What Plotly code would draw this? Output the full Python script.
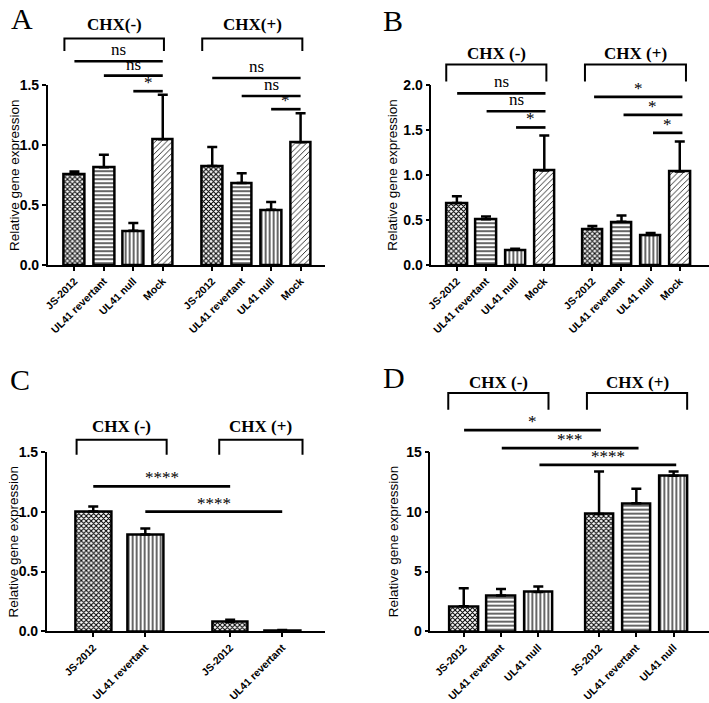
import plotly.graph_objects as go

W, H = 709, 703

# ---------------- data ----------------
A_categories = ["JS-2012", "UL41 revertant", "UL41 null", "Mock"]
A_groups = ["CHX(-)", "CHX(+)"]
A_mean_neg = [0.76, 0.815, 0.285, 1.05]
A_sd_neg = [0.02, 0.105, 0.065, 0.37]
A_mean_pos = [0.825, 0.685, 0.46, 1.025]
A_sd_pos = [0.16, 0.08, 0.065, 0.24]
A_yticks = [0.0, 0.5, 1.0, 1.5]
A_signif = [(0, 3, "ns"), (1, 3, "ns"), (2, 3, "*"), (4, 7, "ns"), (5, 7, "ns"), (6, 7, "*")]

B_categories = ["JS-2012", "UL41 revertant", "UL41 null", "Mock"]
B_groups = ["CHX (-)", "CHX (+)"]
B_mean_neg = [0.69, 0.51, 0.17, 1.05]
B_sd_neg = [0.075, 0.03, 0.012, 0.39]
B_mean_pos = [0.40, 0.48, 0.335, 1.04]
B_sd_pos = [0.035, 0.07, 0.02, 0.335]
B_yticks = [0.0, 0.5, 1.0, 1.5, 2.0]
B_signif = [(0, 3, "ns"), (1, 3, "ns"), (2, 3, "*"), (4, 7, "*"), (5, 7, "*"), (6, 7, "*")]

C_categories = ["JS-2012", "UL41 revertant"]
C_groups = ["CHX (-)", "CHX (+)"]
C_mean_neg = [1.00, 0.81]
C_sd_neg = [0.043, 0.05]
C_mean_pos = [0.08, 0.008]
C_sd_pos = [0.018, 0.004]
C_yticks = [0.0, 0.5, 1.0, 1.5]
C_signif = [(0, 2, "****"), (1, 3, "****")]

D_categories = ["JS-2012", "UL41 revertant", "UL41 null"]
D_groups = ["CHX (-)", "CHX (+)"]
D_mean_neg = [2.1, 3.0, 3.3]
D_sd_neg = [1.5, 0.55, 0.45]
D_mean_pos = [9.8, 10.7, 13.0]
D_sd_pos = [3.55, 1.2, 0.35]
D_yticks = [0, 5, 10, 15]
D_signif = [(0, 3, "*"), (1, 4, "***"), (2, 5, "****")]

Y_TITLE = "Relative gene expression"

# ---------------- styles / layout geometry ----------------
SERIF = "Liberation Serif, Times New Roman, serif"
SANS = "Liberation Sans, Arial, sans-serif"

# pattern per category: (shape, size, solidity)
PAT = {
    "JS-2012": ("x", 3.5, 0.5),
    "UL41 revertant": ("-", 4, 0.3),
    "UL41 null": ("|", 4, 0.3),
    "Mock": ("/", 4, 0.2),
}
PAT_VERT = ("|", 4, 0.3)

panels = [
    dict(letter="A", letter_xy=(3, 11), cats=A_categories, groups=A_groups,
         mneg=A_mean_neg, sneg=A_sd_neg, mpos=A_mean_pos, spos=A_sd_pos,
         yticks=A_yticks, fmt=".1f", signif=A_signif,
         ax_px=42, xend_px=322, bar0_px=69, unit=29.7, gap=1.68, bw=0.7,
         y0_px=263, ytop_px=79, title_x=8,
         brk=[(-0.34, 0.04), (-0.34, 0.06)], brk_y=(1.89, 1.785), lab_y=2.005,
         sig_y=[1.70, 1.58, 1.45, 1.56, 1.41, 1.30], pat_override={}),
    dict(letter="B", letter_xy=(378, 13), cats=B_categories, groups=B_groups,
         mneg=B_mean_neg, sneg=B_sd_neg, mpos=B_mean_pos, spos=B_sd_pos,
         yticks=B_yticks, fmt=".1f", signif=B_signif,
         ax_px=429, xend_px=712, bar0_px=455, unit=29.7, gap=1.65, bw=0.7,
         y0_px=263, ytop_px=79, title_x=389,
         brk=[(-0.37, 0.03), (-0.31, 0.12)], brk_y=(2.23, 2.04), lab_y=2.35,
         sig_y=[1.91, 1.71, 1.53, 1.87, 1.67, 1.47], pat_override={}),
    dict(letter="C", letter_xy=(2, 380), cats=C_categories, groups=C_groups,
         mneg=C_mean_neg, sneg=C_sd_neg, mpos=C_mean_pos, spos=C_sd_pos,
         yticks=C_yticks, fmt=".1f", signif=C_signif,
         ax_px=41, xend_px=322, bar0_px=88, unit=52.5, gap=1.63, bw=0.69,
         y0_px=638, ytop_px=454, title_x=8,
         brk=[(-0.32, 0.41), (-0.21, 0.39)], brk_y=(1.60, 1.475), lab_y=1.71,
         sig_y=[1.21, 1.00], pat_override={"UL41 revertant": PAT_VERT}),
    dict(letter="D", letter_xy=(378, 378), cats=D_categories, groups=D_groups,
         mneg=D_mean_neg, sneg=D_sd_neg, mpos=D_mean_pos, spos=D_sd_pos,
         yticks=D_yticks, fmt="d", signif=D_signif,
         ax_px=428, xend_px=712, bar0_px=462, unit=38, gap=1.63, bw=0.76,
         y0_px=638, ytop_px=454, title_x=391,
         brk=[(-0.42, 0.24), (-0.37, 0.29)], brk_y=(19.9, 18.5), lab_y=20.8,
         sig_y=[16.8, 15.3, 13.9], pat_override={}),
]

fig = go.Figure()
shapes = []
annotations = []

for i, p in enumerate(panels, start=1):
    n = len(p["cats"])
    pos1 = [float(k) for k in range(n)]
    pos2 = [n - 1 + p["gap"] + k for k in range(n)]
    xs = pos1 + pos2
    ys = list(p["mneg"]) + list(p["mpos"])
    sds = list(p["sneg"]) + list(p["spos"])
    cats = list(p["cats"]) * 2
    pats = [p["pat_override"].get(c, PAT[c]) for c in cats]

    ytop = p["yticks"][-1]

    def px_x(x, p=p):
        return (p["bar0_px"] + x * p["unit"]) / W

    def px_y(y, p=p, ytop=ytop):
        py = p["y0_px"] - y * (p["y0_px"] - p["ytop_px"]) / ytop
        return 1 - py / H

    xa = "x" if i == 1 else f"x{i}"
    ya = "y" if i == 1 else f"y{i}"
    fig.add_trace(go.Bar(
        x=xs, y=ys, width=p["bw"], xaxis=xa, yaxis=ya, showlegend=False,
        marker=dict(color="white", line=dict(color="black", width=2.5),
                    pattern=dict(shape=[q[0] for q in pats], size=[q[1] for q in pats],
                                 solidity=[q[2] for q in pats], fgcolor="black",
                                 bgcolor="white", fillmode="replace")),
        error_y=dict(type="data", symmetric=False, array=sds, arrayminus=[0] * len(sds),
                     color="black", thickness=2.5, width=5),
        hoverinfo="skip",
    ))

    xr0 = (p["ax_px"] - p["bar0_px"]) / p["unit"]
    xr1 = (p["xend_px"] - p["bar0_px"]) / p["unit"]
    suffix = "" if i == 1 else str(i)
    fig.update_layout(**{
        f"xaxis{suffix}": dict(
            domain=[p["ax_px"] / W, min(p["xend_px"] / W, 1.0)],
            range=[xr0, xr1], tickmode="array", tickvals=xs, ticktext=cats,
            tickangle=-45, ticks="outside", ticklen=4, tickwidth=2, tickcolor="black",
            showline=True, linewidth=2, linecolor="black", showgrid=False, zeroline=False,
            tickfont=dict(family=SANS, size=10.5, color="black", weight="bold"),
            anchor=ya, fixedrange=True),
        f"yaxis{suffix}": dict(
            domain=[1 - p["y0_px"] / H, 1 - p["ytop_px"] / H],
            range=[0, ytop], tickmode="array", tickvals=p["yticks"],
            ticktext=[format(v, p["fmt"]) if p["fmt"] != "d" else str(int(v)) for v in p["yticks"]],
            ticks="outside", ticklen=4, tickwidth=1.5, tickcolor="black",
            showline=True, linewidth=1.5, linecolor="black", showgrid=False, zeroline=False,
            tickfont=dict(family=SANS, size=14, color="black", weight="bold"),
            anchor=xa, fixedrange=True),
    })

    annotations.append(dict(
        text=Y_TITLE, textangle=-90, xref="paper", yref="paper",
        x=p["title_x"] / W, y=1 - (p["y0_px"] + p["ytop_px"]) / 2 / H,
        xanchor="center", yanchor="middle", showarrow=False,
        font=dict(family=SANS, size=13.5, color="black")))

    annotations.append(dict(
        text=p["letter"], xref="paper", yref="paper",
        x=p["letter_xy"][0] / W, y=1 - p["letter_xy"][1] / H,
        xanchor="left", yanchor="middle", showarrow=False,
        font=dict(family=SERIF, size=30, color="black")))

    for g, (grp_pos, (lo, hi)) in enumerate(zip([pos1, pos2], p["brk"])):
        x0 = px_x(grp_pos[0] + lo)
        x1 = px_x(grp_pos[-1] + hi)
        yt = px_y(p["brk_y"][0])
        yb = px_y(p["brk_y"][1])
        shapes.append(dict(type="path", xref="paper", yref="paper",
                           path=f"M {x0} {yb} L {x0} {yt} L {x1} {yt} L {x1} {yb}",
                           line=dict(color="black", width=2)))
        annotations.append(dict(
            text=p["groups"][g], xref="paper", yref="paper",
            x=(x0 + x1) / 2, y=px_y(p["lab_y"]), xanchor="center", yanchor="middle",
            showarrow=False, font=dict(family=SERIF, size=17, color="black", weight="bold")))

    for (a, b, lab), yl in zip(p["signif"], p["sig_y"]):
        xa0 = px_x(xs[a])
        xb0 = px_x(xs[b])
        yy = px_y(yl)
        shapes.append(dict(type="line", xref="paper", yref="paper",
                           x0=xa0, x1=xb0, y0=yy, y1=yy,
                           line=dict(color="black", width=2.7)))
        annotations.append(dict(
            text=lab, xref="paper", yref="paper", x=(xa0 + xb0) / 2, y=yy,
            xanchor="center", yanchor="bottom", showarrow=False,
            yshift=(-3 if lab.startswith("*") else 0),
            font=dict(family=SERIF, size=17, color="black")))

fig.update_layout(
    width=W, height=H, margin=dict(l=0, r=0, t=0, b=0),
    paper_bgcolor="white", plot_bgcolor="white",
    shapes=shapes, annotations=annotations, bargap=0, showlegend=False,
)

fig.write_html("out.html", config={"displayModeBar": False},
               post_script="document.body.style.margin='0';document.body.style.overflow='hidden';")
